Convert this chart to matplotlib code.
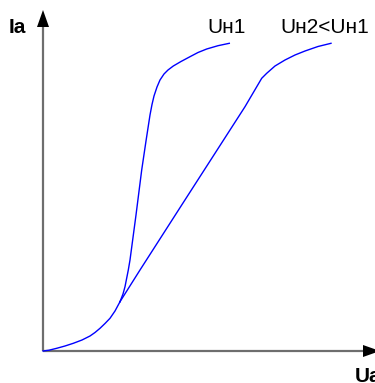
import matplotlib
matplotlib.use('Agg')
import matplotlib.pyplot as plt

# =========================
# Data (Ua, Ia) - origin at the axes corner
# =========================
common_ua = [0, 6, 13.7, 22, 30.3, 39, 47, 52, 57, 62, 67, 72, 77]
common_ia = [0, 0.8, 2.7, 5, 7.7, 11, 15, 18.5, 22.7, 27.5, 32.7, 40, 49.3]

uh1_ua = [77, 80, 82, 85.3, 87, 93, 98.7, 103, 107, 109, 111, 114, 117, 121, 125, 130.3, 138, 147, 155, 163.7, 175, 186.3]
uh1_ia = [49.3, 57, 64.3, 81, 91, 136, 181, 210, 236, 246.5, 255, 264, 271, 277, 281, 285, 289.5, 294.3, 298.5, 302, 305.3, 307.7]

uh2_ua = [77, 97, 140, 202, 218.7, 223.7, 232, 242, 252, 262, 275, 288]
uh2_ia = [49.3, 81, 148, 244.3, 272.7, 277.7, 285, 291, 296, 300, 304.5, 307.7]

labels = ['Uн1', 'Uн2<Uн1']
label_x = [164.5, 237]

# =========================
# Figure
# =========================
plt.rcParams['font.family'] = ['Liberation Sans', 'DejaVu Sans']
fig = plt.figure(figsize=(3.75, 3.83), dpi=100)
ax = fig.add_axes([0, 0, 1, 1])
ax.set_xlim(-43, 332)
ax.set_ylim(-32, 351)
ax.axis('off')

# axes with arrows
x_len, y_len = 320, 324
head_l, head_w = 17, 6
ax.plot([0, x_len], [0, 0], color='#6e6e6e', lw=1.6, solid_capstyle='butt', clip_on=False)
ax.plot([0, 0], [0, y_len], color='#6e6e6e', lw=1.6, solid_capstyle='butt', clip_on=False)
ax.fill([x_len, x_len + head_l, x_len], [head_w, 0, -head_w], color='black', lw=0, clip_on=False)
ax.fill([-head_w, 0, head_w], [y_len, y_len + head_l, y_len], color='black', lw=0, clip_on=False)

# curves
for xs, ys in [(common_ua, common_ia), (uh1_ua, uh1_ia), (uh2_ua, uh2_ia)]:
    ax.plot(xs, ys, color='#0000ff', lw=1.0, solid_joinstyle='round')

# labels
for x, txt in zip(label_x, labels):
    ax.text(x, 317.7, txt, fontsize=15, ha='left', va='baseline')
ax.text(-34.7, 317.7, 'Ia', fontsize=15, fontweight='bold', ha='left', va='baseline')
# cut off at the corner, like in the original picture
ax.text(312, -31, 'Ua', fontsize=15, fontweight='bold', ha='left', va='baseline', clip_on=False)

fig.savefig('out.png', dpi=100)
